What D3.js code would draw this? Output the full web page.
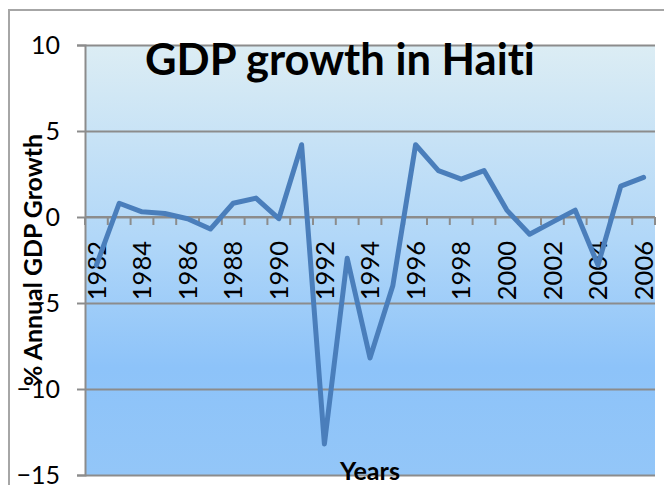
<!DOCTYPE html>
<html>
<head>
<meta charset="utf-8">
<script src="https://cdn.jsdelivr.net/npm/d3@7"></script>
<style>
  body { margin: 0; background: #fff; }
  text { font-family: Lato, "Open Sans", sans-serif; fill: #000; font-variant-ligatures: none; }
</style>
</head>
<body>
<svg id="chart"></svg>
<script>
// data
const years = d3.range(1982, 2007);
const growth = [-2.8, 0.8, 0.3, 0.2, -0.1, -0.7, 0.8, 1.1, -0.1, 4.2,
  -13.2, -2.4, -8.2, -4.0, 4.2, 2.7, 2.2, 2.7, 0.4, -1.0,
  -0.3, 0.4, -2.8, 1.8, 2.3];
const yTicks = [-15, -10, -5, 0, 5, 10];
const xLabelYears = years.filter(d => d % 2 === 0);

const width = 664, height = 485;
const margin = { top: 45, right: 9, bottom: 10, left: 85 };
const innerW = width - margin.left - margin.right;
const innerH = height - margin.top - margin.bottom;

const svg = d3.select('#chart')
  .attr('width', width)
  .attr('height', height);

// outer chart border
svg.append('rect')
  .attr('x', 9).attr('y', 10)
  .attr('width', 720).attr('height', 520)
  .attr('fill', 'none')
  .attr('stroke', '#a6a6a6')
  .attr('stroke-width', 2);

const grad = svg.append('defs').append('linearGradient')
  .attr('id', 'bg')
  .attr('x1', 0).attr('y1', 0).attr('x2', 0).attr('y2', 1);
grad.append('stop').attr('offset', '0%').attr('stop-color', '#dcedf4');
grad.append('stop').attr('offset', '45%').attr('stop-color', '#b1d7f8');
grad.append('stop').attr('offset', '75%').attr('stop-color', '#8dc3f9');
grad.append('stop').attr('offset', '100%').attr('stop-color', '#93c6f8');

const g = svg.append('g')
  .attr('transform', `translate(${margin.left},${margin.top})`);

const x = d3.scaleBand().domain(years).range([0, innerW]).padding(0);
const y = d3.scaleLinear().domain([-15, 10]).range([innerH, 0]);

g.append('rect')
  .attr('width', innerW)
  .attr('height', innerH)
  .attr('fill', 'url(#bg)');

// gridlines
const grid = g.append('g')
  .call(d3.axisLeft(y).tickValues(yTicks).tickSize(-innerW).tickFormat(''));
grid.select('.domain').remove();
grid.selectAll('.tick line').attr('stroke', '#8c8c8c').attr('stroke-width', 2);

// y axis
const yAxisG = g.append('g')
  .call(d3.axisLeft(y).tickValues(yTicks).tickSize(8).tickPadding(17));
yAxisG.select('.domain').attr('stroke', '#8c8c8c').attr('stroke-width', 2);
yAxisG.selectAll('.tick line').attr('stroke', '#8c8c8c').attr('stroke-width', 2);
yAxisG.selectAll('text')
  .style('font-size', '25px')
  .style('font-family', 'Lato, sans-serif')
  .attr('dy', '0.34em');

// x axis sits on the zero line
const xAxisG = g.append('g')
  .attr('transform', `translate(0,${y(0)})`);
xAxisG.append('line')
  .attr('x1', 0).attr('x2', innerW)
  .attr('stroke', '#8c8c8c').attr('stroke-width', 2);
xAxisG.selectAll('.edge-tick')
  .data(years.concat([null]))
  .join('line')
  .attr('class', 'edge-tick')
  .attr('x1', d => d === null ? innerW : x(d))
  .attr('x2', d => d === null ? innerW : x(d))
  .attr('y1', 0).attr('y2', 8)
  .attr('stroke', '#8c8c8c').attr('stroke-width', 2);

const xLabels = xAxisG.append('g')
  .call(d3.axisBottom(x).tickValues(xLabelYears).tickSize(0));
xLabels.select('.domain').remove();
xLabels.selectAll('text')
  .attr('transform', 'rotate(-90)')
  .attr('x', -24)
  .attr('y', 0)
  .attr('dy', '0.36em')
  .attr('text-anchor', 'end')
  .style('font-size', '25.5px')
  .style('font-family', 'Lato, sans-serif');

// series line
const line = d3.line()
  .x((d, i) => x(years[i]) + x.bandwidth() / 2)
  .y(d => y(d));

g.append('path')
  .datum(growth)
  .attr('d', line)
  .attr('fill', 'none')
  .attr('stroke', '#4a7ebb')
  .attr('stroke-width', 5)
  .attr('stroke-linejoin', 'round')
  .attr('stroke-linecap', 'round');

// fit bold text to a measured width
function fitWidth(sel, target) {
  const size = parseFloat(sel.style('font-size'));
  const w = sel.node().getComputedTextLength();
  sel.style('font-size', (size * target / w) + 'px');
}

const title = svg.append('text')
  .attr('x', 145).attr('y', 75)
  .style('font-size', '36px')
  .style('font-weight', 'bold')
  .text('GDP growth in Haiti');
fitWidth(title, 390);

const yTitle = svg.append('text')
  .attr('transform', `translate(42,${margin.top + innerH / 2}) rotate(-90)`)
  .attr('text-anchor', 'middle')
  .style('font-size', '24px')
  .style('font-weight', 'bold')
  .text('% Annual GDP Growth');
fitWidth(yTitle, 252);

const xTitle = svg.append('text')
  .attr('x', margin.left + innerW / 2).attr('y', 480)
  .attr('text-anchor', 'middle')
  .style('font-size', '24px')
  .style('font-weight', 'bold')
  .text('Years');
fitWidth(xTitle, 60);
</script>
</body>
</html>
